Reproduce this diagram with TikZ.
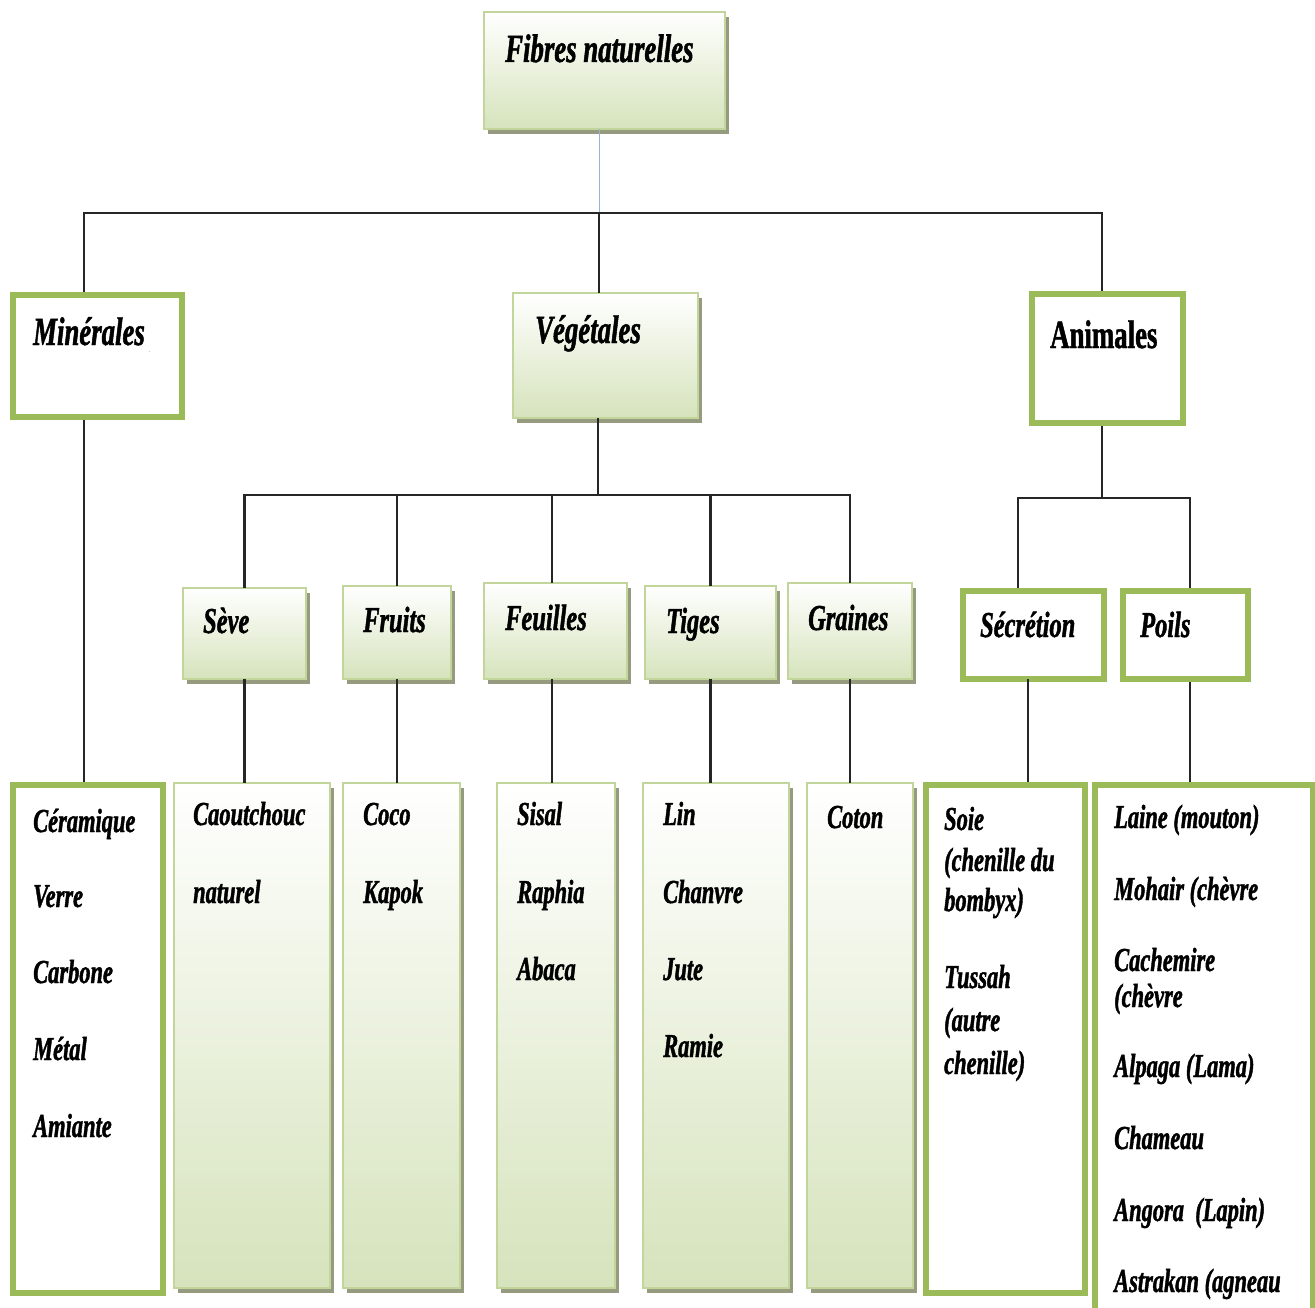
\documentclass[tikz,border=0pt]{standalone}
\usepackage{fontspec}
\usetikzlibrary{shadows}
\newfontfamily\fibfont{Liberation Serif}[FakeStretch=0.67, FakeBold=1.2, BoldFont={Liberation Serif Bold}, BoldItalicFont={Liberation Serif Bold Italic}]
\definecolor{boxgreen}{RGB}{214,227,188}
\definecolor{boxline}{RGB}{194,214,155}
\definecolor{framegreen}{RGB}{155,187,89}
\definecolor{shadowgray}{RGB}{150,155,128}
\definecolor{toplink}{RGB}{149,179,215}
\tikzset{GradBox/.style = {
			shape          = rectangle,
			anchor         = north west,
			draw           = boxline,
			line width     = 1.5pt,
			top color      = white,
			bottom color   = boxgreen,
			drop shadow    = {shadow xshift=4pt, shadow yshift=-5pt, fill=shadowgray, opacity=1},
			inner sep      = 0pt,
			outer sep      = 0pt}
		}
\tikzset{FrameBox/.style = {
			shape          = rectangle,
			anchor         = north west,
			draw           = framegreen,
			line width     = 6pt,
			fill           = white,
			inner sep      = 0pt}
		}
\tikzset{HeadText/.style = {anchor=base west, inner sep=0pt, font=\fibfont\bfseries\itshape\fontsize{40}{44}\selectfont},
		SubText/.style  = {anchor=base west, inner sep=0pt, font=\fibfont\bfseries\itshape\fontsize{36.5}{40}\selectfont},
		ItemText/.style = {anchor=base west, inner sep=0pt, font=\fibfont\bfseries\itshape\fontsize{33.5}{36}\selectfont},
		Link/.style     = {draw=black!85, line width=2.2pt}}
\begin{document}
\begin{tikzpicture}[x=1pt,y=-1pt]
		\clip (0,0) rectangle (1315,1308);
		\fill[white] (0,0) rectangle (1315,1308);

		% boxes
		\draw (484,12) node[GradBox, minimum width=241pt, minimum height=117pt] (fibres) {};

		\draw (10,292) node[FrameBox, minimum width=169pt, minimum height=122pt] (mineral) {};
		\draw (513,293) node[GradBox, minimum width=185pt, minimum height=125pt] (vegetal) {};
		\draw (1029,291) node[FrameBox, minimum width=151pt, minimum height=129pt] (animal) {};

		\draw (183,588) node[GradBox, minimum width=123pt, minimum height=91pt] (seve) {};
		\draw (343,586) node[GradBox, minimum width=108pt, minimum height=93pt] (fruits) {};
		\draw (484,583) node[GradBox, minimum width=143pt, minimum height=96pt] (feuilles) {};
		\draw (645,586) node[GradBox, minimum width=131pt, minimum height=93pt] (tiges) {};
		\draw (788,583) node[GradBox, minimum width=124pt, minimum height=96pt] (graines) {};
		\draw (960,588) node[FrameBox, minimum width=141pt, minimum height=88pt] (secretion) {};
		\draw (1120,588) node[FrameBox, minimum width=125pt, minimum height=88pt] (poils) {};

		\draw (10,782) node[FrameBox, minimum width=150pt, minimum height=508pt] (ceram) {};
		\draw (174,783) node[GradBox, minimum width=156pt, minimum height=505pt] (caout) {};
		\draw (343,783) node[GradBox, minimum width=117pt, minimum height=505pt] (coco) {};
		\draw (497,783) node[GradBox, minimum width=118pt, minimum height=505pt] (sisal) {};
		\draw (643,783) node[GradBox, minimum width=146pt, minimum height=505pt] (lin) {};
		\draw (807,783) node[GradBox, minimum width=106pt, minimum height=505pt] (coton) {};
		\draw (923,782) node[FrameBox, minimum width=159pt, minimum height=508pt] (soie) {};
		\draw (1092,782) node[FrameBox, minimum width=218pt, minimum height=540pt] (laine) {};

		% connectors
		\coordinate (hubTop) at (599,213);
		\coordinate (barL) at (84,213);
		\coordinate (barR) at (1102,213);
		\coordinate (vegHub) at (598,495);
		\coordinate (secJoin) at (1018,498);
		\coordinate (poilJoin) at (1190,498);

		\draw[toplink, line width=1pt] (hubTop |- fibres.south) -- (hubTop);
		\draw[Link] (mineral.north -| barL) -- (barL) -- (barR) -- (animal.north -| barR);
		\draw[Link] (hubTop) -- (vegetal.north -| hubTop);

		\draw[Link] (vegetal.south -| vegHub) -- (vegHub);
		\draw[Link] (seve.north) |- (vegHub) -| (graines.north);
		\draw[Link] (fruits.north) -- (fruits.north |- vegHub);
		\draw[Link] (feuilles.north -| 552,0) -- (552,495);
		\draw[Link] (tiges.north) -- (tiges.north |- vegHub);

		\draw[Link] (animal.south -| barR) -- (barR |- secJoin);
		\draw[Link] (secretion.north -| secJoin) -- (secJoin) -- (poilJoin) -- (poils.north -| poilJoin);

		\draw[Link] (mineral.south -| barL) -- (ceram.north -| barL);
		\draw[Link] (seve.south) -- (seve.south |- caout.north);
		\draw[Link] (fruits.south) -- (fruits.south |- coco.north);
		\draw[Link] (552,679) -- (sisal.north -| 552,0);
		\draw[Link] (tiges.south) -- (tiges.south |- lin.north);
		\draw[Link] (graines.south) -- (graines.south |- coton.north);
		\draw[Link] (1028,679) -- (soie.north -| 1028,0);
		\draw[Link] (poils.south -| poilJoin) -- (laine.north -| poilJoin);

		% texts
		\draw (505,62) node[HeadText] (tFibres) {Fibres naturelles};
		\draw (33,345) node[HeadText] (tMineral) {Minérales};
		\draw (148,352) node[anchor=base west, inner sep=0pt, text=gray, font=\fontsize{9}{9}\selectfont] (tDot) {.};
		\draw (535,343) node[HeadText] (tVegetal) {Végétales};
		\draw (1050,348) node[HeadText, font=\fibfont\bfseries\fontsize{40}{44}\selectfont] (tAnimal) {Animales};

		\draw (203,633) node[SubText] (tSeve) {Sève};
		\draw (363,632) node[SubText] (tFruits) {Fruits};
		\draw (505,630) node[SubText] (tFeuilles) {Feuilles};
		\draw (666,633) node[SubText] (tTiges) {Tiges};
		\draw (808,630) node[SubText] (tGraines) {Graines};
		\draw (980,637) node[SubText] (tSecretion) {Sécrétion};
		\draw (1140,637) node[SubText] (tPoils) {Poils};

		\draw (33,832) node[ItemText] (tCeram) {Céramique};
		\draw (33,907) node[ItemText] (tVerre) {Verre};
		\draw (33,983) node[ItemText] (tCarbone) {Carbone};
		\draw (33,1060) node[ItemText] (tMetal) {Métal};
		\draw (33,1137) node[ItemText] (tAmiante) {Amiante};

		\draw (193,825) node[ItemText] (tCaout) {Caoutchouc};
		\draw (193,903) node[ItemText] (tNaturel) {naturel};

		\draw (363,825) node[ItemText] (tCoco) {Coco};
		\draw (363,903) node[ItemText] (tKapok) {Kapok};

		\draw (517,825) node[ItemText] (tSisal) {Sisal};
		\draw (517,903) node[ItemText] (tRaphia) {Raphia};
		\draw (517,980) node[ItemText] (tAbaca) {Abaca};

		\draw (663,825) node[ItemText] (tLin) {Lin};
		\draw (663,903) node[ItemText] (tChanvre) {Chanvre};
		\draw (663,980) node[ItemText] (tJute) {Jute};
		\draw (663,1057) node[ItemText] (tRamie) {Ramie};

		\draw (827,828) node[ItemText] (tCoton) {Coton};

		\draw (944,830) node[ItemText] (tSoie) {Soie};
		\draw (944,871) node[ItemText] (tSoieA) {(chenille du};
		\draw (944,911) node[ItemText] (tSoieB) {bombyx)};
		\draw (944,988) node[ItemText] (tTussah) {Tussah};
		\draw (944,1031) node[ItemText] (tTussahA) {(autre};
		\draw (944,1074) node[ItemText] (tTussahB) {chenille)};

		\draw (1114,828) node[ItemText] (tLaine) {Laine (mouton)};
		\draw (1114,900) node[ItemText] (tMohair) {Mohair (chèvre};
		\draw (1114,971) node[ItemText] (tCachemire) {Cachemire};
		\draw (1114,1007) node[ItemText] (tCachemireA) {(chèvre};
		\draw (1114,1077) node[ItemText] (tAlpaga) {Alpaga (Lama)};
		\draw (1114,1149) node[ItemText] (tChameau) {Chameau};
		\draw (1114,1221) node[ItemText] (tAngora) {Angora\ \ (Lapin)};
		\draw (1114,1292) node[ItemText] (tAstrakan) {Astrakan (agneau};
\end{tikzpicture}
\end{document}
